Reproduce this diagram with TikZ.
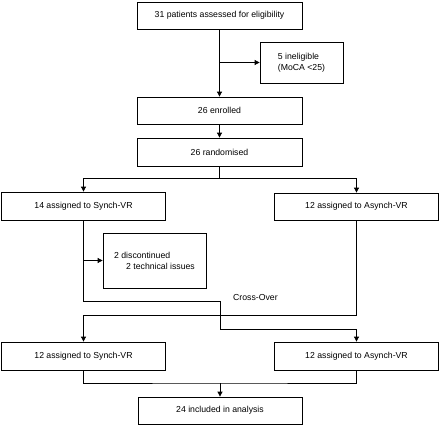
\documentclass[tikz,border=0pt]{standalone}
\usepackage{fontspec}
\setmainfont{Liberation Sans}
\usetikzlibrary{arrows.meta}
\begin{document}
\begin{tikzpicture}[x=1pt,y=-1pt,
  font=\fontsize{8.7}{10.8}\selectfont,
  box/.style={draw=black, line width=0.8pt, minimum width=164pt, minimum height=27pt, inner sep=0pt, anchor=center},
  line/.style={draw=black, line width=0.8pt},
  arr/.style={line, -{Triangle[length=5pt,width=5pt]}}]
\useasboundingbox (0,0) rectangle (440,426);
\node[box, minimum width=165pt] (top) at (219.5,15.5) {31 patients assessed for eligibility};
\node[box, minimum width=83pt, minimum height=41pt, align=left] (inel) at (301.5,62.5) {5 ineligible\\(MoCA <25)};
\node[box, minimum width=165pt] (enr) at (219.5,110.5) {26 enrolled};
\node[box, minimum width=165pt, minimum height=28pt] (rand) at (219.5,152) {26 randomised};
\node[box, minimum height=28pt] (s1) at (83.5,206) {14 assigned to Synch-VR};
\node[box] (a1) at (356.5,206.5) {12 assigned to Asynch-VR};
\node[box, minimum width=103pt, minimum height=55pt, align=left] (disc) at (154.5,260.5) {2 discontinued\\\hspace*{12pt}2 technical issues};
\node[box, minimum height=28pt] (s2) at (83.5,356) {12 assigned to Synch-VR};
\node[box, minimum height=28pt] (a2) at (356.5,356) {12 assigned to Asynch-VR};
\node[box] (inc) at (220,410.5) {24 included in analysis};
\node[anchor=west, inner sep=0pt] (cross) at (233,298) {Cross-Over};
% connectors
\draw[arr] (top.south) -- (enr.north);
\draw[arr] (top.south |- inel.west) -- (inel.west);
\draw[arr] (enr.south) -- (rand.north);
\coordinate (split) at (219.5,178);
\draw[line] (rand.south) -- (split);
\draw[arr] (split) -| (s1.north);
\draw[arr] (split) -| (a1.north);
\draw[arr] (s1.south |- disc.west) -- (disc.west);
\coordinate (c1) at (83.5,301);
\coordinate (c2) at (220,301);
\coordinate (c3) at (220,329);
\draw[arr] (s1.south) -- (c1) -- (c2) -- (c3) -| (a2.north);
\coordinate (c4) at (356.5,315);
\draw[arr] (a1.south) -- (c4) -| (s2.north);
\coordinate (m) at (220,383);
\draw[line] (s2.south) |- (m) -| (a2.south);
\draw[arr] (m) -- (inc.north);
\end{tikzpicture}
\end{document}
